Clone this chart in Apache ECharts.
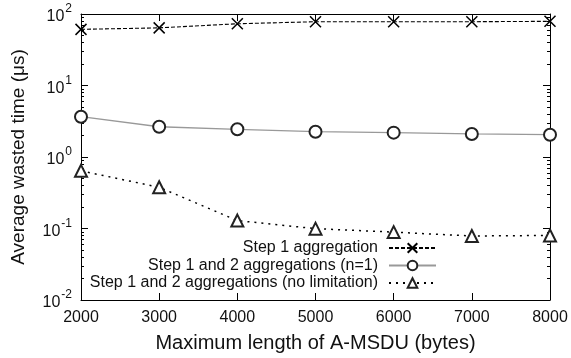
<!DOCTYPE html>
<html>
<head>
<meta charset="utf-8">
<script src="https://cdn.jsdelivr.net/npm/echarts@6/dist/echarts.min.js"></script>
<style>
  html, body { margin: 0; padding: 0; background: #fff; }
  #chart { width: 571px; height: 358px; }
</style>
</head>
<body>
<div id="chart"></div>
<script>
// x: maximum A-MSDU length (bytes)
const lengths = [2000, 3000, 4000, 5000, 6000, 7000, 8000];
// average wasted time (us)
const step1 = [61, 64, 73, 78, 78, 78, 79];
const step12n1 = [3.66, 2.65, 2.44, 2.26, 2.19, 2.10, 2.05];
const step12noLimit = [0.64, 0.377, 0.129, 0.0995, 0.089, 0.0785, 0.080];
const seriesNames = [
  'Step 1 aggregation',
  'Step 1 and 2 aggregations (n=1)',
  'Step 1 and 2 aggregations (no limitation)'
];
// minor tick positions inside each decade (log10 space)
const minorTicks = [];
for (let d = -2; d < 2; d++) {
  for (let k = 2; k <= 9; k++) minorTicks.push(d + Math.log10(k));
}

const FONT = 'Liberation Sans';
const pairs = arr => arr.map((v, i) => [lengths[i], v]);
const crossPath = 'path://M0,0L10,10M10,0L0,10';

const chart = echarts.init(document.getElementById('chart'), null, {renderer: 'canvas'});

const logAxisBase = {
  type: 'log',
  logBase: 10,
  min: 0.01,
  max: 100,
  axisLine: {show: true, onZero: false, lineStyle: {color: '#000', width: 1}},
  axisTick: {show: true, inside: true, length: 7, lineStyle: {color: '#000'}},
  splitLine: {show: false}
};
const minorAxisBase = {
  type: 'value',
  min: -2,
  max: 2,
  axisLine: {show: false},
  axisLabel: {show: false},
  splitLine: {show: false},
  axisTick: {show: true, inside: true, length: 3, customValues: minorTicks, lineStyle: {color: '#000'}}
};

let option = {
  animation: false,
  textStyle: {fontFamily: FONT},
  grid: {left: 81, right: 21, top: 14, bottom: 58, containLabel: false},
  legend: {
    orient: 'vertical',
    right: 134,
    top: 240,
    align: 'right',
    itemWidth: 47,
    itemHeight: 12,
    itemGap: 1.5,
    padding: 0,
    data: seriesNames,
    textStyle: {fontFamily: FONT, fontSize: 16, color: '#111', lineHeight: 16, padding: [0, 6, 0, 0]}
  },
  xAxis: [{
    type: 'value',
    min: 2000,
    max: 8000,
    interval: 1000,
    position: 'bottom',
    name: 'Maximum length of A-MSDU (bytes)',
    nameLocation: 'middle',
    nameGap: 33,
    nameTextStyle: {fontFamily: FONT, fontSize: 20, color: '#111'},
    axisLine: {show: true, onZero: false, lineStyle: {color: '#000', width: 1}},
    axisTick: {show: true, inside: true, length: 7, lineStyle: {color: '#000'}},
    axisLabel: {fontFamily: FONT, fontSize: 16, color: '#111', margin: 10, formatter: v => String(v)},
    splitLine: {show: false}
  }, {
    type: 'value',
    min: 2000,
    max: 8000,
    interval: 1000,
    position: 'top',
    axisLine: {show: true, onZero: false, lineStyle: {color: '#000', width: 1}},
    axisTick: {show: true, inside: true, length: 7, lineStyle: {color: '#000'}},
    axisLabel: {show: false},
    splitLine: {show: false}
  }],
  yAxis: [Object.assign({}, logAxisBase, {
    position: 'left',
    name: 'Average wasted time (μs)',
    nameLocation: 'middle',
    nameGap: 53,
    nameTextStyle: {fontFamily: FONT, fontSize: 19, color: '#111'},
    axisLabel: {
      margin: 9,
      formatter: function (v) {
        const e = Math.round(Math.log10(v));
        return '{b|10}{s|' + e + '}';
      },
      rich: {
        b: {fontFamily: FONT, fontSize: 16, color: '#111', lineHeight: 22, verticalAlign: 'bottom'},
        s: {fontFamily: FONT, fontSize: 12, color: '#111', lineHeight: 22, verticalAlign: 'top', padding: [0, 0, 0, 1]}
      }
    }
  }), Object.assign({}, logAxisBase, {
    position: 'right',
    axisLabel: {show: false}
  }), Object.assign({}, minorAxisBase, {position: 'left'}),
    Object.assign({}, minorAxisBase, {position: 'right'})],
  series: [{
    name: seriesNames[0],
    type: 'line',
    xAxisIndex: 0,
    yAxisIndex: 0,
    data: pairs(step1),
    symbol: crossPath,
    symbolSize: 11,
    showAllSymbol: true,
    z: 3,
    lineStyle: {color: '#000', width: 1.1, type: [4, 2]},
    itemStyle: {color: 'transparent', borderColor: '#000', borderWidth: 1.5}
  }, {
    name: seriesNames[1],
    type: 'line',
    xAxisIndex: 0,
    yAxisIndex: 0,
    data: pairs(step12n1),
    symbol: 'emptyCircle',
    symbolSize: 12,
    showAllSymbol: true,
    z: 2,
    lineStyle: {color: '#999', width: 1.3, type: 'solid'},
    itemStyle: {color: '#222', borderWidth: 1.5}
  }, {
    name: seriesNames[2],
    type: 'line',
    xAxisIndex: 0,
    yAxisIndex: 0,
    data: pairs(step12noLimit),
    symbol: 'emptyTriangle',
    symbolSize: 12,
    showAllSymbol: true,
    z: 2,
    lineStyle: {color: '#000', width: 1.5, type: [2, 5]},
    itemStyle: {color: '#222', borderWidth: 1.5}
  }]
};

chart.setOption(option);
</script>
</body>
</html>
